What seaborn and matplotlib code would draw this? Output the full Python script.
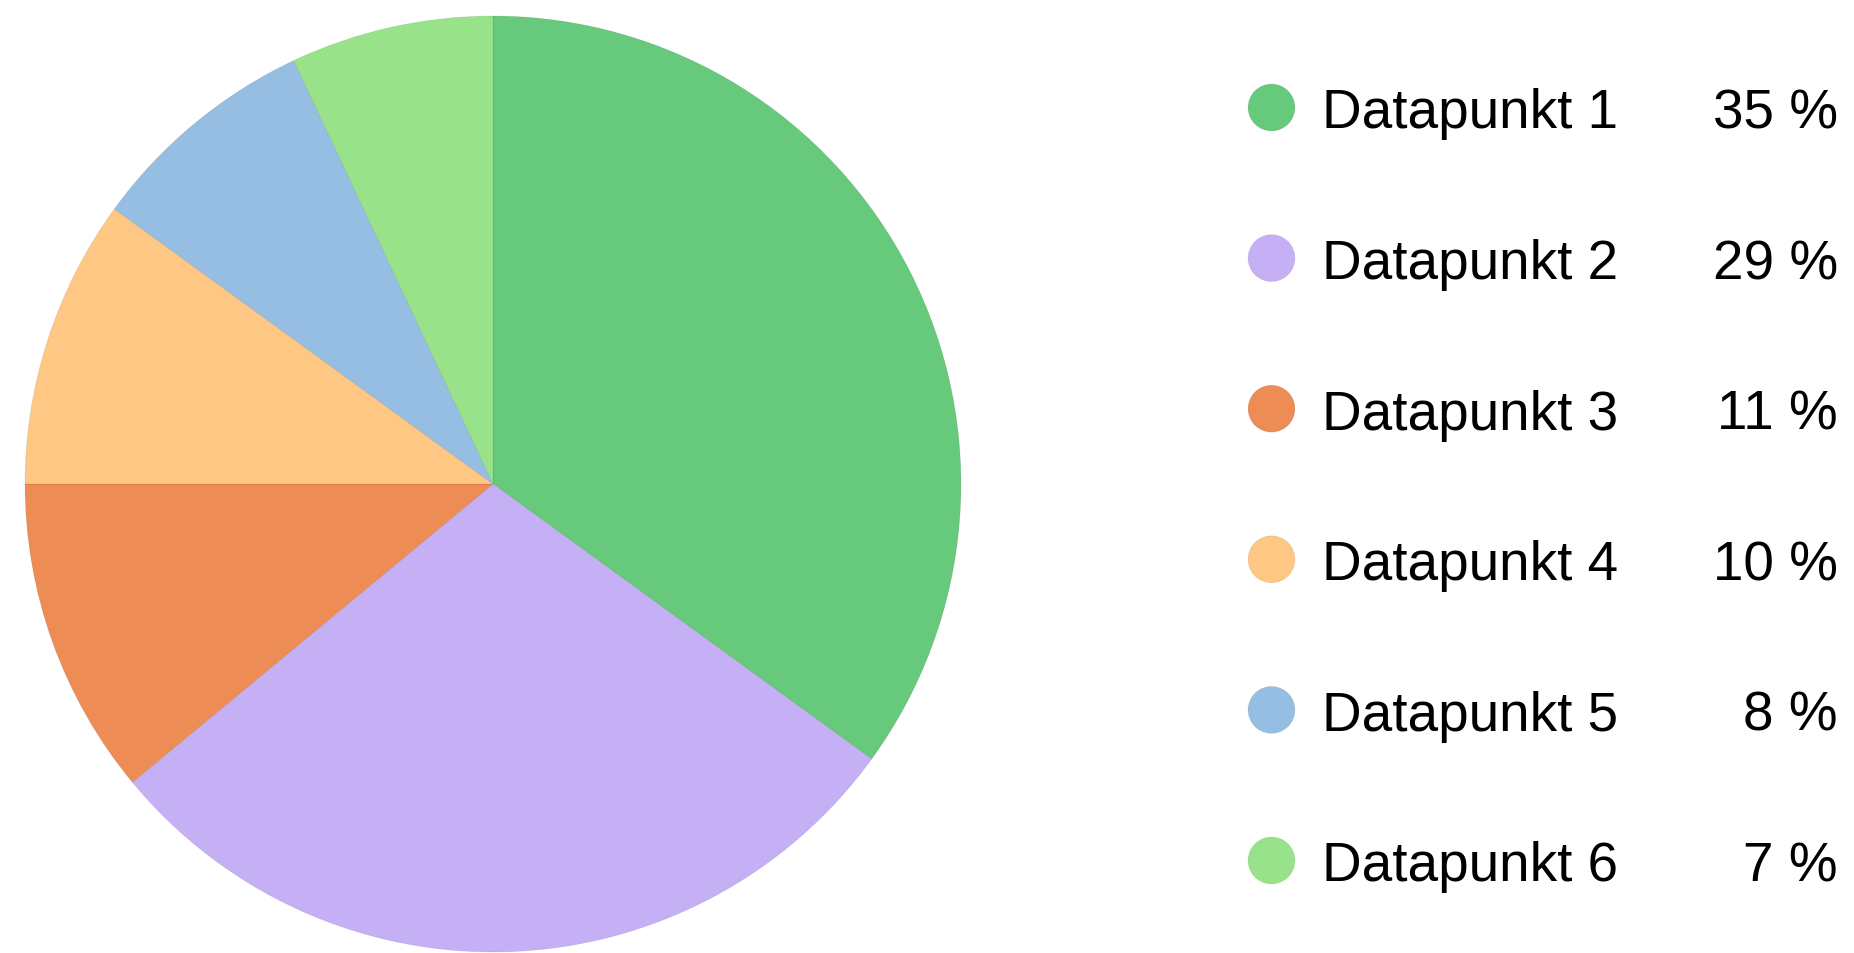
import matplotlib
matplotlib.use("Agg")
import matplotlib.pyplot as plt
import seaborn as sns
import numpy as np

# ---- data ----
labels = ["Datapunkt 1", "Datapunkt 2", "Datapunkt 3", "Datapunkt 4", "Datapunkt 5", "Datapunkt 6"]
values = [35, 29, 11, 10, 8, 7]
pct_labels = ["35 %", "29 %", "11 %", "10 %", "8 %", "7 %"]
colors = ["#66C97C", "#C5B0F5", "#EE8C55", "#FEC784", "#96BEE2", "#98E38A"]

sns.set_theme(style="white")
plt.rcParams['font.family'] = ['Liberation Sans', 'DejaVu Sans']
palette = sns.color_palette(colors)

W, H = 1854, 954
fig = plt.figure(figsize=(W / 100, H / 100), dpi=100)
fig.patch.set_facecolor("white")

# pie axes: center (493, 485) px, radius 468 px
cx, cy, r = 493, 485, 468
ax = fig.add_axes([(cx - r) / W, (H - cy - r) / H, 2 * r / W, 2 * r / H])
ax.pie(values, colors=palette, startangle=90, counterclock=False, radius=1,
       wedgeprops=dict(linewidth=0.6, edgecolor=(0, 0, 0, 0.08)))
ax.set_xlim(-1, 1)
ax.set_ylim(-1, 1)
ax.set_aspect("equal")
ax.axis("off")

# legend axes in pixel coordinates
lx0 = 1230
lax = fig.add_axes([lx0 / W, 0, (W - lx0) / W, 1])
lax.set_xlim(lx0, W)
lax.set_ylim(H, 0)
lax.axis("off")

y0, step = 108.5, 150.6
ys = [y0 + step * i for i in range(len(labels))]
xs = [1271.5] * len(labels)
sns.scatterplot(x=xs, y=ys, hue=labels, palette=palette, s=1140, legend=False,
                ax=lax, edgecolor=(0, 0, 0, 0.08), linewidth=0.6)
fs = 39.5
for y, lab, p in zip(ys, labels, pct_labels):
    lax.text(1322, y, lab, fontsize=fs, va="center_baseline", ha="left", color="#000000")
    lax.text(1838, y, p, fontsize=fs, va="center_baseline", ha="right", color="#000000")

fig.savefig("out.png", dpi=100, facecolor="white")
